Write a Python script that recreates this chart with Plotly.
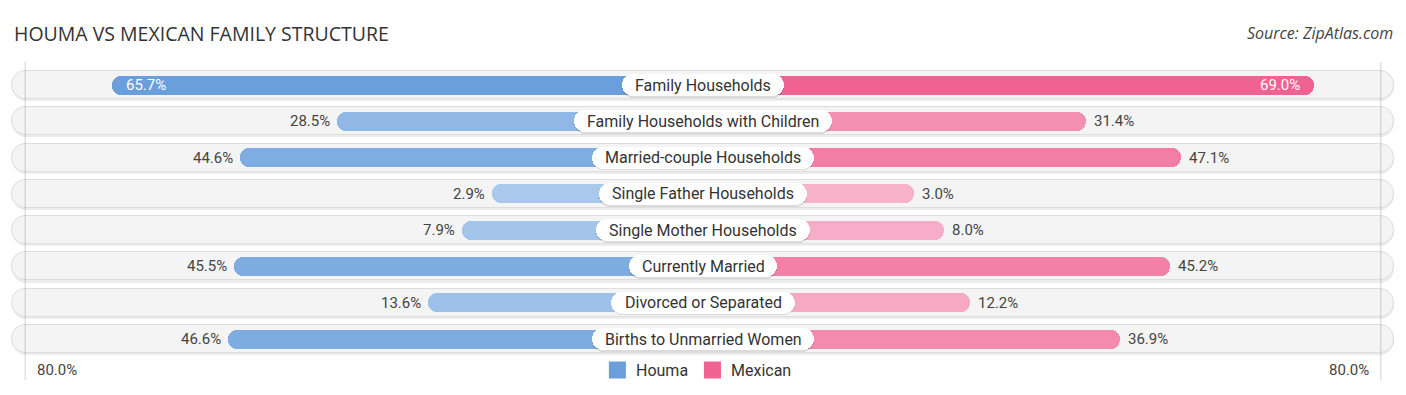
import plotly.graph_objects as go

# ---------------- data ----------------
categories = [
    "Family Households",
    "Family Households with Children",
    "Married-couple Households",
    "Single Father Households",
    "Single Mother Households",
    "Currently Married",
    "Divorced or Separated",
    "Births to Unmarried Women",
]
houma = [65.7, 28.5, 44.6, 2.9, 7.9, 45.5, 13.6, 46.6]
mexican = [69.0, 31.4, 47.1, 3.0, 8.0, 45.2, 12.2, 36.9]
series_names = ["Houma", "Mexican"]
axis_max = 80.0
title_text = "HOUMA VS MEXICAN FAMILY STRUCTURE"
source_text = "Source: ZipAtlas.com"

# ---------------- layout constants ----------------
W, H = 1406, 395
PX_PER_UNIT = 6.06
OFFSET = 193 / PX_PER_UNIT          # bar stub hidden behind the centre label
X_HALF = (W / 2) / PX_PER_UNIT
BG_HALF = 691 / PX_PER_UNIT
ROW_PX = 36.29
FIRST_ROW_PX = 85
Y_TOP = -FIRST_ROW_PX / ROW_PX
Y_BOTTOM = (H - FIRST_ROW_PX) / ROW_PX

BLUE_LIGHT, BLUE_DARK = (172, 202, 237), (92, 150, 216)
PINK_LIGHT, PINK_DARK = (248, 183, 206), (239, 85, 137)
BLUE_MAIN, PINK_MAIN = "#6a9fdc", "#f06292"
FONT = "Roboto"
LABEL_FS = 16
VALUE_FS = 15

def mix(c0, c1, t):
    return "rgb(%d,%d,%d)" % tuple(round(a + (b - a) * t) for a, b in zip(c0, c1))

# Roboto advance widths (em)
CW = {" ": .248, "a": .544, "b": .561, "c": .523, "d": .564, "e": .530, "f": .347,
      "g": .561, "h": .551, "i": .243, "l": .243, "m": .876, "n": .552, "o": .570,
      "p": .561, "r": .338, "s": .516, "t": .327, "u": .551, "v": .484, "w": .751,
      "x": .496, "y": .473, "B": .623, "C": .652, "D": .657, "F": .547, "H": .713,
      "M": .873, "S": .594, "U": .650, "W": .887, "-": .276}

def text_w(s, size):
    return sum(CW.get(ch, .55) for ch in s) * size

n = len(categories)
ys = list(range(n))

fig = go.Figure()

# background pills: shadow + pill
fig.add_trace(go.Bar(
    y=[y + 1.6 / ROW_PX for y in ys], x=[2 * BG_HALF] * n, base=[-BG_HALF] * n,
    orientation="h", width=29 / ROW_PX, marker=dict(color="rgba(0,0,0,0.07)", cornerradius=14, line=dict(width=0)),
    showlegend=False, hoverinfo="skip"))
fig.add_trace(go.Bar(
    y=ys, x=[2 * BG_HALF] * n, base=[-BG_HALF] * n,
    orientation="h", width=28 / ROW_PX,
    marker=dict(color="#f4f4f4", cornerradius=14, line=dict(color="#dedede", width=1)),
    showlegend=False, hoverinfo="skip"))

# Houma bars (left)
fig.add_trace(go.Bar(
    y=ys, x=[-(OFFSET + v) for v in houma], base=[0] * n, orientation="h",
    width=19 / ROW_PX, name=series_names[0],
    marker=dict(color=[mix(BLUE_LIGHT, BLUE_DARK, v / axis_max) for v in houma],
                cornerradius=10, line=dict(width=0)),
    showlegend=False, hoverinfo="skip"))
# Mexican bars (right)
fig.add_trace(go.Bar(
    y=ys, x=[OFFSET + v for v in mexican], base=[0] * n, orientation="h",
    width=19 / ROW_PX, name=series_names[1],
    marker=dict(color=[mix(PINK_LIGHT, PINK_DARK, v / axis_max) for v in mexican],
                cornerradius=10, line=dict(width=0)),
    showlegend=False, hoverinfo="skip"))

# centre label pills
pill_w = [(text_w(c, LABEL_FS) + 26) / PX_PER_UNIT for c in categories]
fig.add_trace(go.Bar(
    y=[y + 1.2 / ROW_PX for y in ys], x=pill_w, base=[-w / 2 for w in pill_w], orientation="h",
    width=23 / ROW_PX, marker=dict(color="rgba(0,0,0,0.10)", cornerradius=11, line=dict(width=0)),
    showlegend=False, hoverinfo="skip"))
fig.add_trace(go.Bar(
    y=ys, x=pill_w, base=[-w / 2 for w in pill_w], orientation="h",
    width=22 / ROW_PX, marker=dict(color="#ffffff", cornerradius=11, line=dict(width=0)),
    showlegend=False, hoverinfo="skip"))

annotations = []
for i, cat in enumerate(categories):
    annotations.append(dict(x=0, y=i, xref="x", yref="y", text=cat, showarrow=False,
                            font=dict(family=FONT, size=LABEL_FS, color="#333333"),
                            xanchor="center", yanchor="middle"))
    hv, mv = houma[i], mexican[i]
    if hv > 60:
        annotations.append(dict(x=-(OFFSET + hv), y=i, xref="x", yref="y", text=f"{hv:.1f}%",
                                showarrow=False, xanchor="left", xshift=12,
                                font=dict(family=FONT, size=VALUE_FS, color="#ffffff")))
    else:
        annotations.append(dict(x=-(OFFSET + hv), y=i, xref="x", yref="y", text=f"{hv:.1f}%",
                                showarrow=False, xanchor="right", xshift=-5,
                                font=dict(family=FONT, size=VALUE_FS, color="#444444")))
    if mv > 60:
        annotations.append(dict(x=OFFSET + mv, y=i, xref="x", yref="y", text=f"{mv:.1f}%",
                                showarrow=False, xanchor="right", xshift=-12,
                                font=dict(family=FONT, size=VALUE_FS, color="#ffffff")))
    else:
        annotations.append(dict(x=OFFSET + mv, y=i, xref="x", yref="y", text=f"{mv:.1f}%",
                                showarrow=False, xanchor="left", xshift=6,
                                font=dict(family=FONT, size=VALUE_FS, color="#444444")))

def py(p):
    return 1 - p / H

# axis labels
axis_label = f"{axis_max:.1f}%"
annotations.append(dict(x=-(OFFSET + axis_max), y=py(370), xref="x", yref="paper", text=axis_label,
                        showarrow=False, xanchor="left", xshift=10, yanchor="middle",
                        font=dict(family=FONT, size=VALUE_FS, color="#444444")))
annotations.append(dict(x=OFFSET + axis_max, y=py(370), xref="x", yref="paper", text=axis_label,
                        showarrow=False, xanchor="right", xshift=-10, yanchor="middle",
                        font=dict(family=FONT, size=VALUE_FS, color="#444444")))

# title and source
annotations.append(dict(x=12 / W, y=py(33), xref="paper", yref="paper", text=title_text,
                        showarrow=False, xanchor="left", yanchor="middle",
                        font=dict(family="Open Sans", size=19.5, color="#333333")))
annotations.append(dict(x=1395 / W, y=py(33), xref="paper", yref="paper", text=f"<i>{source_text}</i>",
                        showarrow=False, xanchor="right", yanchor="middle",
                        font=dict(family="Open Sans", size=16, color="#444444")))

shapes = []
# vertical guide lines at +/- axis_max
for s in (-1, 1):
    xv = s * (OFFSET + axis_max)
    shapes.append(dict(type="line", xref="x", yref="paper", x0=xv, x1=xv, y0=py(62), y1=py(380),
                       line=dict(color="rgba(0,0,0,0.18)", width=1), layer="above"))

# manual legend
LEG_FS, SQ, GAP, SEP = 16, 17, 8, 18
legend_items = [(series_names[0], BLUE_MAIN), (series_names[1], PINK_MAIN)]
widths = [SQ + GAP + text_w(nm, LEG_FS) for nm, _ in legend_items]
total = sum(widths) + SEP * (len(widths) - 1)
xcur = W / 2 - total / 2 - 4
LEG_Y = 370
for (nm, col), wdt in zip(legend_items, widths):
    shapes.append(dict(type="rect", xref="paper", yref="paper",
                       x0=xcur / W, x1=(xcur + SQ) / W, y0=py(LEG_Y + SQ / 2), y1=py(LEG_Y - SQ / 2),
                       fillcolor=col, line=dict(width=0), layer="above"))
    annotations.append(dict(x=(xcur + SQ + GAP) / W, y=py(LEG_Y), xref="paper", yref="paper", text=nm,
                            showarrow=False, xanchor="left", yanchor="middle",
                            font=dict(family=FONT, size=LEG_FS, color="#333333")))
    xcur += wdt + SEP

fig.update_layout(
    width=W, height=H, margin=dict(l=0, r=0, t=0, b=0),
    paper_bgcolor="white", plot_bgcolor="white",
    barmode="overlay", bargap=0, showlegend=False, hovermode=False,
    xaxis=dict(range=[-X_HALF, X_HALF], visible=False, fixedrange=True),
    yaxis=dict(range=[Y_BOTTOM, Y_TOP], visible=False, fixedrange=True),
    annotations=annotations, shapes=shapes,
)

fig.write_html("out.html", config={"displayModeBar": False},
               post_script="document.body.style.margin='0';document.body.style.overflow='hidden';")
